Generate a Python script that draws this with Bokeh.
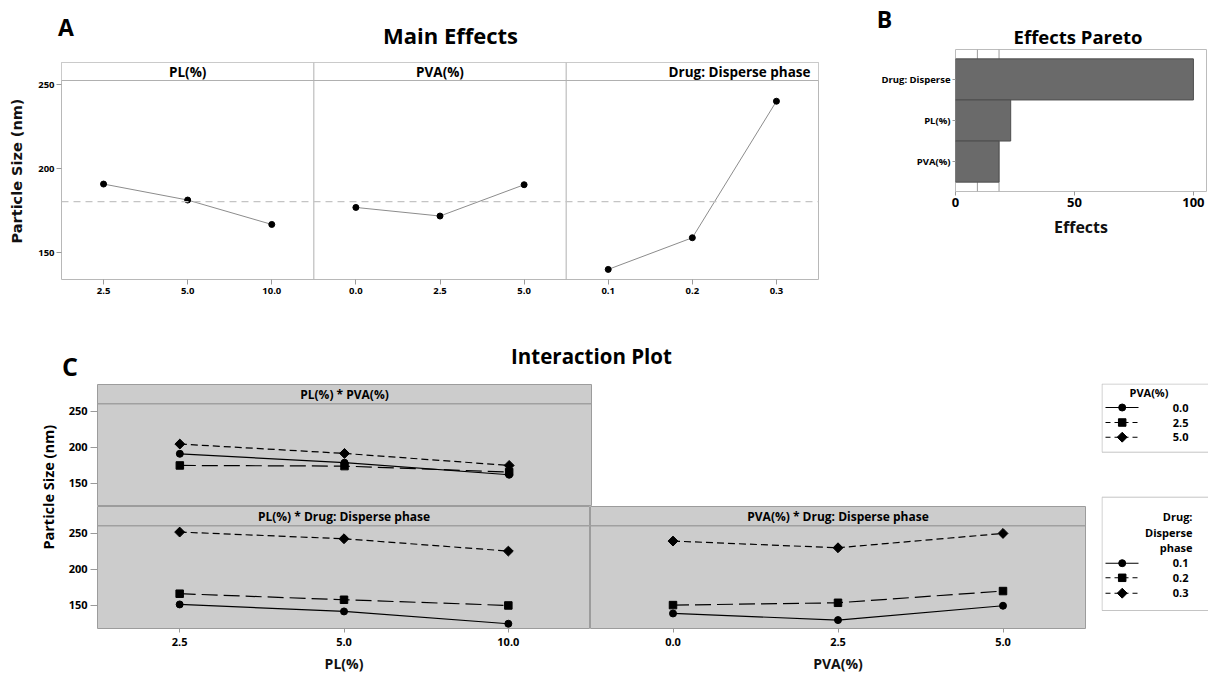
import numpy as np
from bokeh.plotting import figure
from bokeh.layouts import row, column
from bokeh.models import Range1d, FixedTicker, Span, Label, Spacer
from bokeh.core.properties import value
from bokeh.embed import file_html
from bokeh.resources import INLINE

FONT = "Open Sans"

# ---------------- data ----------------
pl_levels = ["2.5", "5.0", "10.0"]
pva_levels = ["0.0", "2.5", "5.0"]
drug_levels = ["0.1", "0.2", "0.3"]
main_titles = ["PL(%)", "PVA(%)", "Drug: Disperse phase"]
main_pl = [190.9, 181.4, 166.9]
main_pva = [177.0, 171.9, 190.5]
main_drug = [140.2, 159.0, 240.1]
grand_mean = 180.5

pareto_terms = ["Drug: Disperse", "PL(%)", "PVA(%)"]
pareto_effects = [100.0, 23.2, 18.3]
pareto_ref_lines = [9.2, 18.3]
pareto_ticks = [0, 50, 100]

pl_pva_00 = [191.2, 178.8, 162.1]
pl_pva_25 = [175.0, 174.1, 165.8]
pl_pva_50 = [204.7, 191.7, 175.0]
pl_drug_01 = [151.4, 141.7, 124.6]
pl_drug_02 = [166.3, 157.9, 150.0]
pl_drug_03 = [251.9, 242.6, 225.5]
pva_drug_01 = [138.9, 129.7, 149.6]
pva_drug_02 = [150.5, 153.7, 170.0]
pva_drug_03 = [239.4, 230.1, 250.0]
size_ticks = [150, 200, 250]

# series styles: (marker, angle, size, dash)
STY = [("circle", 0.0, 7, "solid"),
       ("square", 0.0, 7.5, "16 6"),
       ("square", np.pi / 4, 7, "7 4")]


def mkfig(w, h, xr, yr, left=0, right=0, top=0, bottom=0, **kw):
    p = figure(width=w, height=h, x_range=xr, y_range=yr, title=None,
               output_backend="svg", toolbar_location=None, **kw)
    p.min_border_left = left
    p.min_border_right = right
    p.min_border_top = top
    p.min_border_bottom = bottom
    p.xgrid.visible = False
    p.ygrid.visible = False
    p.background_fill_color = "white"
    p.border_fill_color = "white"
    return p


def text_fig(w, h):
    p = mkfig(w, h, Range1d(0, w), Range1d(0, h),
              x_axis_location=None, y_axis_location=None)
    p.outline_line_color = None
    return p


def style_axis(ax, size, tick_out, standoff, color="#9a9a9a"):
    ax.axis_line_color = None
    ax.major_tick_line_color = color
    ax.major_tick_out = tick_out
    ax.major_tick_in = 0
    ax.minor_tick_line_color = None
    ax.major_label_text_font = FONT
    ax.major_label_text_font_style = "bold"
    ax.major_label_text_font_size = size
    ax.major_label_text_color = "black"
    ax.major_label_standoff = standoff


def add_label(p, text, x, y, size, angle=0.0, align="center", font=FONT):
    p.add_layout(Label(x=x, y=y, x_units="screen", y_units="screen", text=text,
                       text_font=font, text_font_style="bold",
                       text_font_size=size, text_align=align,
                       text_baseline="middle", angle=angle, text_color="black"))


# ---------------- top headings (A, B) ----------------
pT = text_fig(1208, 48)
add_label(pT, "A", 65.5, 21.3, "23px")
add_label(pT, "Main Effects", 450, 14, "22px")
add_label(pT, "B", 884, 29.5, "23px")
add_label(pT, "Effects Pareto", 1077.5, 12.5, "18.5px")

# ---------------- A: Main effects ----------------
pA = mkfig(838, 265, Range1d(0, 9), Range1d(134.2, 263.1),
           left=61, right=20, top=1, bottom=47)
pA.outline_line_color = "#b8b8b8"
hdrA_bottom, hdrA_top = 252.4, 263.1
pA.quad(left=0, right=9, bottom=hdrA_bottom, top=hdrA_top,
        fill_color="white", line_color=None)
pA.add_layout(Span(location=hdrA_bottom, dimension="width",
                   line_color="#b0b0b0", line_width=1))
for d in (3, 6):
    pA.add_layout(Span(location=d, dimension="height",
                       line_color="#b0b0b0", line_width=1))
pA.add_layout(Span(location=grand_mean, dimension="width",
                   line_color="#c4c4c4", line_width=1.3, line_dash="7 5"))
main_sets = [main_pl, main_pva, main_drug]
main_levels = [pl_levels, pva_levels, drug_levels]
tick_pos, tick_over = [], {}
for k, vals in enumerate(main_sets):
    xs = [3 * k + i + 0.5 for i in range(len(vals))]
    pA.line(xs, vals, line_color="#8c8c8c", line_width=1)
    pA.scatter(xs, vals, marker="circle", size=6, fill_color="black",
               line_color="black")
    for x, lab in zip(xs, main_levels[k]):
        tick_pos.append(x)
        tick_over[x] = lab
hy = (hdrA_bottom + hdrA_top) / 2
pA.text(x=[1.5, 4.5], y=[hy, hy], text=main_titles[:2],
        text_font=value(FONT), text_font_style="bold",
        text_font_size="13.5px", text_align="center", text_baseline="middle")
pA.text(x=[9], y=[hy], text=main_titles[2:], x_offset=-8,
        text_font=value(FONT), text_font_style="bold",
        text_font_size="13.5px", text_align="right", text_baseline="middle")
pA.xaxis.ticker = FixedTicker(ticks=tick_pos)
pA.xaxis.major_label_overrides = tick_over
style_axis(pA.xaxis[0], "9.5px", 5, 3)
pA.yaxis.ticker = FixedTicker(ticks=size_ticks)
style_axis(pA.yaxis[0], "9.5px", 5, 2)
pA.yaxis.axis_label = "Particle Size (nm)"
pA.yaxis.axis_label_text_font = "DejaVu Sans"
pA.yaxis.axis_label_text_font_style = "bold"
pA.yaxis.axis_label_text_font_size = "14.5px"
pA.yaxis.axis_label_text_color = "#111111"
pA.yaxis.axis_label_standoff = 10

# ---------------- B: Effects Pareto ----------------
pB = mkfig(370, 192, Range1d(0, 105.5), Range1d(-0.228, 3.228),
           left=117, right=2, top=1, bottom=47)
pB.outline_line_color = "#bcbcbc"
for r in pareto_ref_lines:
    pB.add_layout(Span(location=r, dimension="height", line_color="#9a9a9a",
                       line_width=1, level="underlay"))
ny = len(pareto_terms)
bar_y = [ny - 1 - i + 0.5 for i in range(ny)]
pB.hbar(y=bar_y, right=pareto_effects, left=0, height=1.0,
        fill_color="#6a6a6a", line_color="#4e4e4e", line_width=1)
pB.yaxis.ticker = FixedTicker(ticks=bar_y)
pB.yaxis.major_label_overrides = {y: t for y, t in zip(bar_y, pareto_terms)}
style_axis(pB.yaxis[0], "9.5px", 3, 2)
pB.xaxis.ticker = FixedTicker(ticks=pareto_ticks)
style_axis(pB.xaxis[0], "13px", 4, 2)
pB.xaxis.axis_label = "Effects"
pB.xaxis.axis_label_text_font = FONT
pB.xaxis.axis_label_text_font_style = "bold"
pB.xaxis.axis_label_text_font_size = "16px"
pB.xaxis.axis_label_text_color = "#111111"
pB.xaxis.axis_label_standoff = 6

# ---------------- C: header ----------------
pH = text_fig(1208, 57)
add_label(pH, "C", 69.5, 17.5, "25px")
add_label(pH, "Interaction Plot", 591, 28, "20.5px")

# y label column
pY = text_fig(65, 293)
add_label(pY, "Particle Size (nm)", 48.3, 189.3, "14.5px", angle=np.pi / 2)

YR = (118.0, 287.4)
HDR_C = 260.7
GRAY = "#cccccc"


def interaction_panel(p, series, title):
    p.background_fill_color = GRAY
    p.outline_line_color = "#9c9c9c"
    p.add_layout(Span(location=HDR_C, dimension="width",
                      line_color="#a0a0a0", line_width=1.3))
    xs = [i + 0.5 for i in range(3)]
    for vals, (mk, ang, sz, dash) in zip(series, STY):
        p.line(xs, vals, line_color="black", line_width=1.2, line_dash=dash)
        p.scatter(xs, vals, marker=mk, angle=ang, size=sz,
                  fill_color="black", line_color="black")
    p.text(x=[1.5], y=[(HDR_C + YR[1]) / 2], text=[title],
           text_font=value(FONT), text_font_style="bold",
           text_font_size="12px", text_align="center", text_baseline="middle")


def c_yaxis(p):
    p.yaxis.ticker = FixedTicker(ticks=size_ticks)
    style_axis(p.yaxis[0], "11px", 7, 3)


def c_xaxis(p, labels, name):
    p.xaxis.ticker = FixedTicker(ticks=[0.5, 1.5, 2.5])
    p.xaxis.major_label_overrides = {i + 0.5: l for i, l in enumerate(labels)}
    style_axis(p.xaxis[0], "11px", 4, 5)
    p.xaxis.axis_label = name
    p.xaxis.axis_label_text_font = FONT
    p.xaxis.axis_label_text_font_style = "bold"
    p.xaxis.axis_label_text_font_size = "14px"
    p.xaxis.axis_label_text_color = "#111111"
    p.xaxis.axis_label_standoff = 5


cTop = mkfig(1036, 123, Range1d(0, 3), Range1d(*YR), left=32, right=510,
             top=1, bottom=0, x_axis_location=None)
interaction_panel(cTop, [pl_pva_00, pl_pva_25, pl_pva_50], "PL(%) * PVA(%)")
c_yaxis(cTop)

cBL = mkfig(525, 170, Range1d(0, 3), Range1d(*YR), left=32, right=0,
            top=0, bottom=48)
interaction_panel(cBL, [pl_drug_01, pl_drug_02, pl_drug_03],
                  "PL(%) * Drug: Disperse phase")
c_yaxis(cBL)
c_xaxis(cBL, pl_levels, "PL(%)")

cBR = mkfig(511, 170, Range1d(0, 3), Range1d(*YR), left=0, right=16,
            top=0, bottom=48, y_axis_location=None)
interaction_panel(cBR, [pva_drug_01, pva_drug_02, pva_drug_03],
                  "PVA(%) * Drug: Disperse phase")
c_xaxis(cBR, pva_levels, "PVA(%)")

# ---------------- legends ----------------
pL = text_fig(107, 293)
pL.quad(left=[0.5, 0.5], right=[115, 115], bottom=[224.3, 66.0],
        top=[292.5, 179.3], fill_color="white", line_color="#c4c4c4",
        line_width=1)


def legend_block(p, title_lines, title_ys, title_x, title_align, labels, ys):
    p.text(x=[title_x] * len(title_lines), y=title_ys, text=title_lines,
           text_font=value(FONT), text_font_style="bold",
           text_font_size="11px", text_align=title_align,
           text_baseline="middle")
    for lab, y, (mk, ang, sz, dash) in zip(labels, ys, STY):
        p.line([4, 37], [y, y], line_color="black", line_width=1.1,
               line_dash=dash if dash == "solid" else "5 4")
        p.scatter([20.7], [y], marker=mk, angle=ang, size=sz,
                  fill_color="black", line_color="black")
    p.text(x=[87] * len(labels), y=ys, text=labels,
           text_font=value(FONT), text_font_style="bold",
           text_font_size="11px", text_align="right", text_baseline="middle")


legend_block(pL, ["PVA(%)"], [284.3], 67, "right", pva_levels,
             [269.0, 254.0, 239.3])
legend_block(pL, ["Drug:", "Disperse", "phase"], [160.3, 143.7, 128.7], 91,
             "right", drug_levels, [113.3, 98.7, 83.3])

top_row = row(column(Spacer(width=838, height=13), pA), column(pB))
layout = column(pT, top_row, pH,
                row(pY, column(cTop, row(cBL, cBR)), pL))

open("out.html", "w").write(file_html(layout, INLINE))
